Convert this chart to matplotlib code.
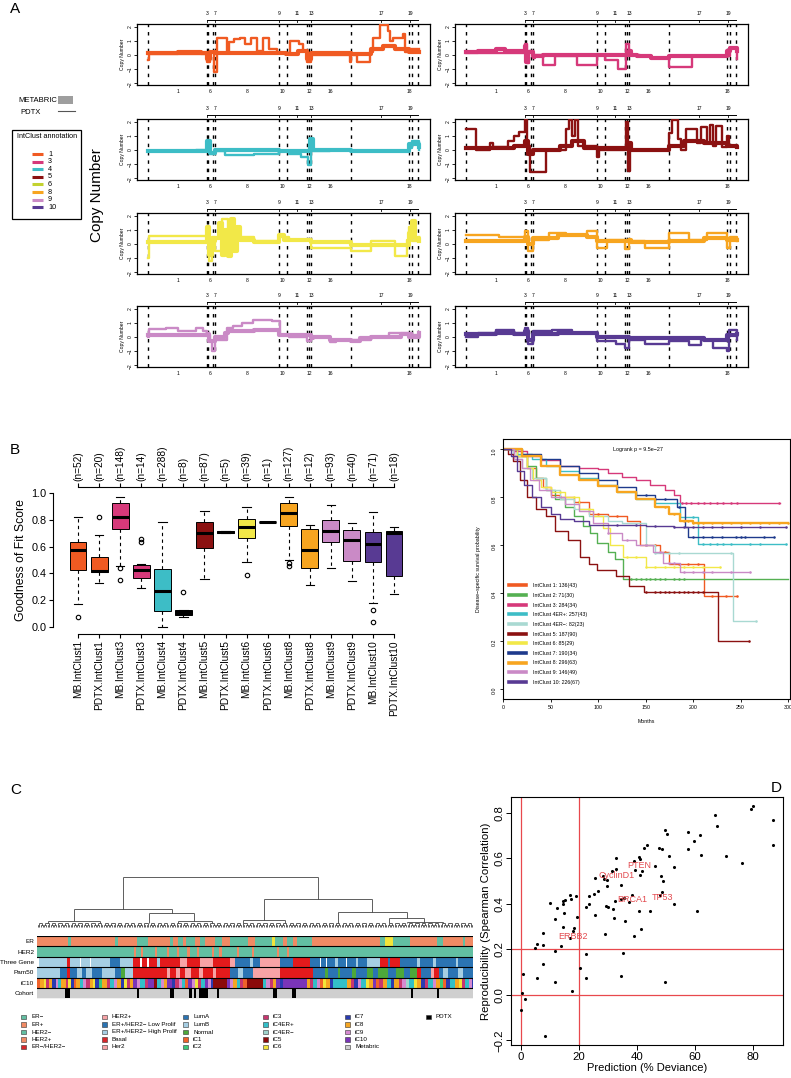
import numpy as np
import matplotlib.pyplot as plt
from matplotlib.lines import Line2D
from matplotlib.collections import LineCollection
from matplotlib.transforms import blended_transform_factory

W, H = 791, 1078
plt.rcParams['font.family'] = ['Liberation Sans', 'DejaVu Sans']

# ---------------- colours ----------------
IC1, IC2, IC3, IC4, IC4N = '#F05A22', '#55B052', '#D6397A', '#3DBDC6', '#A9D9D2'
IC5, IC6, IC7, IC8, IC9, IC10 = '#8B1111', '#F2E848', '#1E3A8C', '#F7A520', '#CA8AC6', '#583A93'

# ---------------- panel A data ----------------
CHR_LINES = [3.75, 23.9, 24.2, 25.9, 26.6, 48.5, 51.2, 58.0, 58.7, 59.4, 73.0, 92.8, 93.9, 95.9]
TOP_CHR = ['3', '7', '9', '11', '13', '17', '19']
TOP_POS = [23.9, 26.6, 48.5, 54.6, 59.4, 83.3, 93.2]
BOT_CHR = ['1', '6', '8', '10', '12', '16', '18']
BOT_POS = [14.0, 24.9, 37.5, 49.8, 58.7, 65.9, 92.8]

CN_COLORS = [IC1, IC3, IC4, IC5, IC6, IC8, IC9, IC10]
CN_MB = [
    [(3.75, 0.1), (10, 0.15), (14, 0.2), (22, 0.15), (23.9, -0.3), (25, 0.2), (26.6, 0.1), (30, 0.15), (48, 0.1),
     (51, 0.05), (55, 0.3), (58, -0.3), (59.4, 0.1), (73, 0.05), (80, 0.4), (84, 0.6), (88, 0.4), (92.8, 0.2), (96.2, 0.2)],
    [(3.75, 0.2), (8, 0.3), (14, 0.4), (17, 0.3), (23.9, 0.6), (24.2, -0.5), (25, 0.2), (26.6, -0.1), (30, 0.0),
     (48.5, 0.0), (59.4, 0.3), (60, 0.0), (62, -0.1), (67, -0.2), (73, -0.1), (90, -0.05), (92.8, 0.3), (94, 0.5), (96.2, 0.3)],
    [(3.75, -0.1), (10, -0.05), (23.9, 0.6), (25, -0.2), (26.6, 0.0), (48.5, -0.1), (59.2, 0.8), (60, 0.0),
     (73, -0.05), (92.8, 0.4), (96.2, 0.2)],
    [(3.75, 0.1), (20, 0.3), (23.9, 0.6), (25, -0.3), (26.6, 0.0), (36, 0.3), (40, 0.6), (44, 0.1), (59.4, 0.5),
     (60, 0.0), (73, 0.3), (78, 0.6), (85, 0.5), (92.8, 0.3), (96.2, 0.2)],
    [(3.75, 0.1), (23.9, 1.2), (24.5, -0.8), (25.5, 0.2), (26.6, 0.4), (28, 1.5), (29, -0.8), (30, 1.0), (31, -0.9),
     (32, 1.8), (33, -0.5), (34, 1.2), (35, 0.3), (40, 0.1), (48.5, 0.6), (50, 0.3), (59.4, 0.1), (73, -0.1),
     (92.8, 0.8), (94, 1.6), (95, 0.4), (96.2, 0.2)],
    [(3.75, 0.2), (23.9, 0.5), (25, 0.0), (26.6, 0.4), (35, 0.6), (45, 0.5), (48.5, 0.2), (59.4, 0.3), (60, 0.1),
     (73, 0.2), (85, 0.4), (92.8, 0.3), (96.2, 0.3)],
    [(3.75, 0.1), (23.9, 0.2), (24.5, -0.3), (26.6, 0.0), (30, 0.3), (31, 0.45), (40, 0.5), (48.5, 0.1),
     (59.4, -0.1), (60, 0.0), (66, -0.2), (73, -0.3), (76, -0.1), (80, 0.0), (90, 0.2), (92.8, 0.0), (96.2, 0.3)],
    [(3.75, 0.2), (14, 0.3), (20, 0.2), (23.9, 0.4), (25, -0.2), (26.6, 0.2), (35, 0.3), (48.5, 0.0), (59.4, -0.1),
     (73, -0.1), (85, -0.2), (92.8, 0.1), (96.2, 0.2)],
]
CN_PDTX = [
    [(3.75, -0.4), (4.2, 0.05), (23.9, -0.5), (25, 0.2), (26.3, -1.2), (27.2, 1.2), (30.6, 0.1), (31.5, 0.9),
     (33, 1.1), (35, 1.2), (37, 0.8), (39, 1.2), (41, 0.3), (43, 1.2), (45, 0.4), (47.7, 0.1), (52.2, 1.0),
     (55.3, 0.8), (56.5, 0.3), (58, -0.5), (59.4, 0.0), (72.7, -0.5), (73.2, 0.0), (75, -0.5), (79.5, 0.2),
     (80.5, 1.2), (82.9, 2.1), (85.8, 1.7), (86.5, 1.0), (87.5, 1.2), (90.9, 1.5), (91.5, 0.2), (93, 0.4), (96.2, 0.4)],
    [(3.75, 0.1), (23.9, 0.8), (24.5, -0.6), (25.2, 0.3), (26.6, -0.2), (27.2, 0.0), (30.1, -0.7), (34.1, -0.05),
     (41.5, -0.7), (48.4, 0.0), (51.2, -0.35), (55.8, -1.0), (58.5, 0.8), (59.4, 0.0), (63, -0.1), (67, -0.25),
     (73.1, -0.85), (80.8, -0.1), (92.8, -0.1), (94, 0.5), (96.2, -0.3)],
    [(3.75, -0.1), (20, 0.0), (23.9, 0.4), (25, -0.3), (26.6, -0.1), (30, -0.35), (40, -0.3), (48.5, -0.1),
     (52, -0.3), (56, -0.5), (58.2, -1.1), (59.4, -0.1), (66, 0.0), (73, -0.1), (82, -0.05), (92.8, 0.1),
     (94, 0.6), (96.2, 0.0)],
    [(3.75, 1.5), (7, 0.0), (12, 0.5), (13, 0.2), (18, 0.6), (20, 1.0), (22, 1.3), (23.9, 2.1), (24.6, 0.3),
     (25.5, -1.6), (31, 0.0), (38, 1.5), (39, 2.1), (40, 1.0), (41, 2.1), (42, 0.3), (48.5, -0.5), (49, 0.0),
     (58.5, 2.0), (59, -1.5), (59.6, 0.0), (73, 1.2), (74, 2.1), (76, 0.8), (77, 0.0), (79, 1.5), (82, 1.5),
     (82.5, 0.5), (84, 1.6), (86, 0.5), (87, 1.8), (88, 0.3), (89, 1.7), (91, 0.2), (92.8, 1.0), (93.5, 0.3), (96.2, 0.3)],
    [(3.75, -1.0), (4, 0.55), (23.9, 0.55), (24.5, -1.2), (25.5, 0.5), (26.6, -0.5), (29, 1.8), (31, 0.5),
     (40, 0.2), (48.5, 0.5), (52, 0.3), (58, 0.3), (59.4, -0.3), (73, -0.5), (80, 0.2), (88, -0.9), (92, 0.3),
     (92.8, 1.2), (94, 0.2), (96.2, 0.5)],
    [(3.75, 0.6), (15, 0.5), (23.9, 0.9), (25, -0.5), (26.6, 0.3), (32, 0.8), (38, 0.6), (45, 0.9), (48.5, -0.3),
     (52, 0.3), (58, -0.4), (59.4, 0.2), (65, -0.3), (73, 0.8), (80, 0.3), (86, 0.8), (92.8, -0.3), (94, 0.5), (96.2, 0.2)],
    [(3.75, 0.0), (4, 0.55), (10, 0.6), (14, 0.45), (20, 0.6), (22.5, 0.45), (23.9, 0.1), (24.8, -0.3),
     (25.5, -1.0), (26.6, -0.2), (30.6, 0.6), (32.9, 0.8), (36, 1.0), (39.7, 1.2), (46, 1.15), (48.8, 0.1),
     (52, 0.0), (58, -0.3), (59.4, 0.0), (66, -0.4), (68, -0.2), (73, -0.2), (80, 0.0), (86, 0.3), (92.8, 0.3),
     (94, 0.1), (96.2, 0.3)],
    [(3.75, 0.0), (8, 0.3), (14, 0.5), (20, 0.3), (23.9, 0.6), (25, -0.5), (26.6, 0.4), (33, 0.5), (40, 0.3),
     (48.5, -0.3), (55, -0.5), (58, -0.8), (59.4, -0.2), (65, -0.5), (73, -0.3), (80, -0.6), (84, -0.2),
     (88, -0.8), (92.8, -1.0), (93.5, 0.5), (96.2, -0.2)],
]
ANNOT_LABELS = ['1', '3', '4', '5', '6', '8', '9', '10']
ANNOT_COLORS = [IC1, IC3, IC4, IC5, '#C3D22F', IC8, IC9, IC10]

# ---------------- panel B data ----------------
BOX_LABELS = ['MB.IntClust1', 'PDTX.IntClust1', 'MB.IntClust3', 'PDTX.IntClust3', 'MB.IntClust4', 'PDTX.IntClust4',
              'MB.IntClust5', 'PDTX.IntClust5', 'MB.IntClust6', 'PDTX.IntClust6', 'MB.IntClust8', 'PDTX.IntClust8',
              'MB.IntClust9', 'PDTX.IntClust9', 'MB.IntClust10', 'PDTX.IntClust10']
BOX_N = [52, 20, 148, 14, 288, 8, 87, 5, 39, 1, 127, 12, 93, 40, 71, 18]
BOX_MED = [0.575, 0.417, 0.82, 0.425, 0.272, 0.106, 0.70, 0.707, 0.748, 0.785, 0.852, 0.575, 0.716, 0.649, 0.62, 0.70]
BOX_Q1 = [0.427, 0.41, 0.733, 0.365, 0.118, 0.09, 0.593, 0.70, 0.662, 0.785, 0.756, 0.44, 0.635, 0.496, 0.486, 0.378]
BOX_Q3 = [0.637, 0.519, 0.926, 0.464, 0.432, 0.126, 0.785, 0.715, 0.805, 0.785, 0.926, 0.728, 0.80, 0.723, 0.709, 0.718]
BOX_LO = [0.173, 0.328, 0.455, 0.291, 0.0, 0.075, 0.358, 0.70, 0.489, 0.785, 0.50, 0.316, 0.44, 0.346, 0.18, 0.247]
BOX_HI = [0.822, 0.686, 0.97, 0.47, 0.785, 0.13, 0.867, 0.715, 0.896, 0.785, 0.97, 0.765, 0.914, 0.778, 0.857, 0.743]
BOX_OUT = [[0.077], [0.822], [0.44, 0.35], [0.66, 0.637], [], [0.259], [], [], [0.39], [], [0.48, 0.455], [], [], [],
           [0.13, 0.04], []]
BOX_COLORS = [IC1, IC1, IC3, IC3, IC4, 'black', IC5, IC5, IC6, IC6, IC8, IC8, IC9, IC9, IC10, IC10]

SURV_LABELS = ['IntClust 1: 136(43)', 'IntClust 2: 71(30)', 'IntClust 3: 284(34)', 'IntClust 4ER+: 257(43)',
               'IntClust 4ER\u2212: 82(23)', 'IntClust 5: 187(90)', 'IntClust 6: 85(29)', 'IntClust 7: 190(34)',
               'IntClust 8: 296(63)', 'IntClust 9: 146(49)', 'IntClust 10: 226(67)']
SURV_COLORS = [IC1, IC2, IC3, IC4, IC4N, IC5, IC6, IC7, IC8, IC9, IC10]
SURV_T = [
    [0, 12, 25, 35, 42, 50, 60, 75, 90, 110, 130, 144, 165, 175, 211, 246],
    [0, 15, 25, 35, 45, 55, 65, 75, 84, 92, 99, 110, 118, 126, 300],
    [0, 10, 25, 40, 60, 80, 100, 110, 125, 140, 155, 170, 180, 186, 292],
    [0, 15, 30, 45, 60, 80, 100, 120, 140, 160, 186, 205, 298],
    [0, 10, 20, 30, 45, 60, 75, 90, 110, 125, 150, 160, 242, 266],
    [0, 5, 10, 18, 25, 35, 45, 55, 68, 81, 90, 99, 119, 133, 148, 226, 259],
    [0, 15, 25, 32, 40, 50, 65, 80, 95, 105, 113, 126, 150, 228],
    [0, 20, 40, 60, 80, 100, 120, 140, 160, 183, 192, 195, 285],
    [0, 20, 40, 60, 80, 100, 120, 140, 160, 175, 186, 200, 300],
    [0, 12, 20, 28, 38, 50, 65, 80, 95, 110, 125, 140, 158, 168, 186, 260],
    [0, 8, 15, 22, 30, 40, 50, 60, 75, 90, 150, 180, 298],
]
SURV_P = [
    [1, 0.97, 0.92, 0.88, 0.84, 0.81, 0.80, 0.78, 0.73, 0.72, 0.70, 0.60, 0.57, 0.52, 0.386, 0.386],
    [1, 0.97, 0.93, 0.88, 0.83, 0.79, 0.76, 0.72, 0.68, 0.65, 0.61, 0.57, 0.54, 0.458, 0.458],
    [1, 0.99, 0.97, 0.955, 0.93, 0.92, 0.915, 0.90, 0.885, 0.87, 0.85, 0.83, 0.81, 0.775, 0.775],
    [1, 0.98, 0.96, 0.93, 0.91, 0.88, 0.85, 0.82, 0.79, 0.775, 0.717, 0.604, 0.604],
    [1, 0.96, 0.92, 0.88, 0.83, 0.79, 0.75, 0.72, 0.70, 0.69, 0.60, 0.565, 0.283, 0.283],
    [1, 0.98, 0.95, 0.87, 0.80, 0.75, 0.72, 0.66, 0.62, 0.55, 0.52, 0.495, 0.47, 0.43, 0.405, 0.20, 0.20],
    [1, 0.97, 0.92, 0.87, 0.84, 0.82, 0.80, 0.75, 0.72, 0.67, 0.60, 0.55, 0.51, 0.51],
    [1, 0.98, 0.96, 0.93, 0.90, 0.87, 0.84, 0.81, 0.79, 0.76, 0.675, 0.635, 0.635],
    [1, 0.97, 0.93, 0.89, 0.87, 0.845, 0.82, 0.79, 0.76, 0.73, 0.70, 0.69, 0.69],
    [1, 0.96, 0.92, 0.87, 0.83, 0.80, 0.77, 0.74, 0.69, 0.65, 0.62, 0.60, 0.57, 0.525, 0.487, 0.487],
    [1, 0.97, 0.91, 0.85, 0.80, 0.76, 0.73, 0.71, 0.70, 0.685, 0.68, 0.675, 0.675],
]
SURV_CENS = [
    [60, 80, 100, 120, 150, 160, 170, 185, 195, 205, 220, 235, 246],
    [135, 140, 145, 150, 155, 160, 165, 170, 180, 185, 190],
    [188, 193, 198, 205, 212, 218, 225, 232, 240, 246, 290],
    [200, 210, 218, 225, 232, 240, 260, 270, 298],
    [150, 160, 175, 185, 240, 266],
    [150, 160, 165, 170, 175, 180, 185, 190, 195, 200, 205, 210, 259],
    [60, 75, 90, 130, 140, 150, 160, 170, 180, 190, 200, 210, 228],
    [150, 160, 170, 185, 200, 210, 220, 230, 245, 250, 255, 275, 285],
    [170, 180, 190, 195, 200, 205, 210, 220, 230, 240, 250, 260, 270, 280, 290, 300],
    [110, 130, 150, 165, 175, 180, 190, 200, 210, 220, 240, 260],
    [120, 140, 160, 180, 190, 200, 210, 220, 230, 250, 270, 298],
]

# ---------------- panel C data ----------------
ROW_NAMES = ['ER', 'HER2', 'Three Gene', 'Pam50', 'iC10', 'Cohort']
ROW_RUNS = [
    "p31 n3 p44 n3 p19 n11 p22 n3 p5 n5 p3 n9 p5 n5 p10 n7 p8 n18 p7 n17 g3 n8 p4 n6 p4 n15 p68 n5 g8 n17 p27 n6 p20 n2 p8",
    "t97 s2 t5 s2 t12 s2 t10 s2 t8 s2 t8 s3 t7 s2 t13 s2 t5 s3 t15 s2 t13 s2 t23 s2 t8 s2 t184",
    "w2 H28 R3 H10 w1 H9 w1 H19 L10 H13 R7 w2 R5 w2 R8 H3 R7 R13 P7 R13 P13 R17 P5 L5 L10 H3 L7 P20 L13 R17 L10 w1 "
    "L5 w1 L8 H3 L8 w1 L9 H2 L9 H13 R8 L2 R10 L17 H3 L13 H3 L20 H2 L15",
    "B23 A7 S3 A7 B5 A4 B6 A10 B13 A6 N4 B8 S34 E3 S6 E4 S5 E6 S8 E4 S10 E3 S14 A8 B5 A10 E27 S33 A12 N3 A10 N2 A12 "
    "N4 A11 N6 A5 N10 A8 N8 A6 N7 S4 A10 E3 S5 A4 B5 A10 B5 A10",
    "a3 i4 g2 c3 i3 h4 j2 d3 i5 c2 g3 h3 a2 i4 d3 j3 c4 i3 g2 h4 b3 i5 c3 d4 j3 i4 h3 g3 c3 i3 "
    "k4 j3 d5 c3 k6 f3 d4 j3 i3 k5 h3 c4 j3 d3 a3 k4 j3 g3 c3 d4 k3 j3 h2 f14 k3 j3 i4 d3 c3 a4 f16 "
    "d3 j4 c3 i3 k4 h3 k24 i3 c3 d4 j3 a3 g3 i4 h3 d14 i4 c3 h4 j3 d5 g3 i4 k3 a3 c4 i4 "
    "d4 h3 i5 c3 j4 e3 d5 g3 i4 h4 c3 d5 j3 i4 b3 a3 h4 d5 i4 g3 c3 d4 j3 h1",
    "m28 x5 m67 x2 m31 x4 m15 x3 m2 x2 m3 x9 m9 x2 m54 x4 m15 x4 m115 x2 m24 x2 m34",
]
CAT_COLORS = {
    'n': '#62BFA2', 'p': '#F08A64', 'g': '#D0D0D0', 't': '#62BFA2', 's': '#F08A64',
    'w': '#FFFFFF', 'H': '#A6CEE3', 'L': '#2B74B3', 'R': '#E31A1C', 'P': '#F7A3A6',
    'A': '#2B74B3', 'B': '#A6CEE3', 'N': '#4DA83A', 'S': '#E31A1C', 'E': '#F7A3A6',
    'a': '#F0622A', 'b': '#3CC878', 'c': '#C8366F', 'd': '#33BFC8', 'e': '#9FD4CC', 'f': '#8B0A0A',
    'g': '#F2E53A', 'h': '#2A3BB0', 'i': '#F5A623', 'j': '#D58AD0', 'k': '#7A35B8',
    'm': '#CFCFCF', 'x': '#000000',
}
LEG_COLS = [
    [('ER\u2212', '#62BFA2'), ('ER+', '#F08A64'), ('HER2\u2212', '#62BFA2'), ('HER2+', '#F08A64'),
     ('ER\u2212/HER2\u2212', '#D7262A')],
    [('HER2+', '#F7A3A6'), ('ER+/HER2\u2212 Low Prolif', '#2B74B3'), ('ER+/HER2\u2212 High Prolif', '#A6CEE3'),
     ('Basal', '#D7262A'), ('Her2', '#F7A3A6')],
    [('LumA', '#2B74B3'), ('LumB', '#A6CEE3'), ('Normal', '#4DA83A'), ('iC1', '#F0622A'), ('iC2', '#3CC878')],
    [('iC3', '#C8366F'), ('iC4ER+', '#33BFC8'), ('iC4ER\u2212', '#9FD4CC'), ('iC5', '#8B0A0A'), ('iC6', '#F2E53A')],
    [('iC7', '#2A3BB0'), ('iC8', '#F5A623'), ('iC9', '#D58AD0'), ('iC10', '#7A35B8'), ('Metabric', '#CFCFCF')],
    [('PDTX', '#000000')],
]
# dendrogram merges: left x, right x, height, left child height, right child height
DENDRO = [
    (86, 281, 50, 18, 28), (37, 135, 18, 6, 14), (11, 63, 6, 4, 4), (112, 157, 14, 4, 6), (141, 175, 6, 4, 4),
    (227, 335, 28, 7, 15), (206, 248, 7, 4, 4), (301, 370, 15, 4, 9), (352, 387, 9, 4, 5), (370, 406, 5, 4, 4),
]
N_LEAF = 264

# ---------------- panel D data ----------------
DEV = [0, 0.3, 0.6, 1.3, 8.4, 4.9, 5.5, 7.5, 7.5, 7.5, 5.5, 10.1, 11.8, 12.4, 11.8, 11.6, 13.9, 14.5, 14.7, 14.5,
       14.5, 15.3, 16.8, 17.2, 16.8, 18.0, 18.1, 17.6, 19.1, 19.3, 20.2, 22.4, 22.5, 22.5, 23.3, 23.3, 25.3, 25.6,
       25.6, 26.4, 28.3, 28.7, 29.7, 29.7, 29.3, 29.9, 29.1, 31.4, 31.7, 32.2, 32.3, 32.9, 32.9, 34.3, 34.3, 35.4,
       34.6, 35.1, 35.7, 37.1, 38.3, 39.1, 39.1, 39.4, 40.6, 40.6, 41.1, 40.9, 41.7, 41.4, 42.3, 43.4, 44.4, 46.3,
       47.5, 48.0, 48.6, 48.7, 48.4, 49.0, 49.8, 50.3, 51.0, 49.8, 52.9, 52.9, 57.5, 57.5, 59.5, 60.5, 61.8, 62.1,
       66.7, 67.6, 70.7, 76.1, 79.1, 79.9, 87.0, 86.7]
REPRO = [-0.066, 0.007, 0.092, -0.018, -0.179, 0.208, 0.223, 0.22, 0.274, 0.135, 0.073, 0.404, 0.333, 0.383, 0.194,
         0.056, 0.216, 0.297, 0.36, 0.401, 0.411, 0.418, 0.44, 0.423, 0.25, 0.282, 0.294, 0.016, 0.433, 0.341, 0.12,
         0.18, 0.073, 0.386, 0.433, 0.4, 0.443, 0.352, 0.514, 0.458, 0.524, 0.509, 0.506, 0.477, 0.393, 0.388, 0.27,
         0.543, 0.379, 0.338, 0.415, 0.553, 0.602, 0.484, 0.421, 0.426, 0.085, 0.183, 0.323, 0.408, 0.44, 0.257,
         0.587, 0.548, 0.606, 0.367, 0.598, 0.528, 0.543, 0.291, 0.646, 0.658, 0.371, 0.568, 0.646, 0.44, 0.451,
         0.641, 0.521, 0.502, 0.727, 0.709, 0.609, 0.056, 0.561, 0.399, 0.715, 0.641, 0.675, 0.367, 0.702, 0.617,
         0.79, 0.744, 0.609, 0.58, 0.818, 0.832, 0.769, 0.661]
GENES = ['PTEN', 'CyclinD1', 'BRCA1', 'TP53', 'ERBB2']
GENE_X = [40.7, 32.9, 38.2, 48.9, 18.0]
GENE_Y = [0.57, 0.525, 0.42, 0.43, 0.255]

# =====================================================================
fig = plt.figure(figsize=(W / 100, H / 100), dpi=100)


def px_axes(x0, y0, x1, y1):
    return fig.add_axes([x0 / W, 1 - y1 / H, (x1 - x0) / W, (y1 - y0) / H])


def ftext(x, y, s, **kw):
    fig.text(x / W, 1 - y / H, s, **kw)


ftext(10, 9, 'A', fontsize=11, va='center')
ftext(10, 450, 'B', fontsize=11, va='center')
ftext(10, 790, 'C', fontsize=11, va='center')
ftext(771, 788, 'D', fontsize=11, va='center')

# ---------------- panel A ----------------
row_tops = [24, 119, 213, 306]
col_x = [(137, 430), (455, 748)]
for k in range(8):
    r, c = k // 2, k % 2
    ax = px_axes(col_x[c][0], row_tops[r], col_x[c][1], row_tops[r] + 61)
    ax.set_xlim(0, 100)
    ax.set_ylim(-2.15, 2.2)
    for xv in CHR_LINES:
        ax.axvline(xv, color='black', ls=(0, (2.5, 3.5)), lw=1.0, zorder=1)
    mb = np.array(CN_MB[k])
    pd_ = np.array(CN_PDTX[k])
    ax.step(mb[:, 0], mb[:, 1], where='post', color=CN_COLORS[k], lw=3.0, zorder=2)
    ax.step(pd_[:, 0], pd_[:, 1], where='post', color=CN_COLORS[k], lw=1.7, zorder=3)
    ax.set_xticks(BOT_POS, BOT_CHR)
    ax.tick_params(axis='x', length=0, pad=3, labelsize=3.6)
    ax.set_yticks([-2, -1, 0, 1, 2])
    ax.tick_params(axis='y', length=2, width=0.6, pad=1, labelsize=3.6, labelrotation=90)
    ax.set_ylabel('Copy Number', fontsize=3.6, labelpad=2)
    for sp in ax.spines.values():
        sp.set_linewidth(0.9)
    tr = blended_transform_factory(ax.transData, ax.transAxes)
    ax.plot([CHR_LINES[1], CHR_LINES[-1]], [1.066, 1.066], color='black', lw=0.7, transform=tr, clip_on=False)
    for xp, lab in zip(TOP_POS, TOP_CHR):
        ax.plot([xp, xp], [1.066, 1.03], color='black', lw=0.6, transform=tr, clip_on=False)
        ax.text(xp, 1.17, lab, fontsize=3.6, ha='center', va='center', transform=tr)

ftext(97, 195, 'Copy Number', fontsize=11, rotation=90, ha='center', va='center')
ftext(18, 100, 'METABRIC', fontsize=5.5, va='center')
ftext(20, 112, 'PDTX', fontsize=5.5, va='center')
leg_ax = px_axes(0, 0, W, H)
leg_ax.set_xlim(0, W)
leg_ax.set_ylim(H, 0)
leg_ax.axis('off')
leg_ax.add_patch(plt.Rectangle((58, 96), 15, 8, color='#9E9E9E', lw=0))
leg_ax.plot([58, 75], [111, 111], color='#555555', lw=0.8)
leg_ax.add_patch(plt.Rectangle((12, 130), 69, 89, fill=False, lw=0.9, ec='black'))
leg_ax.text(47, 136, 'IntClust annotation', fontsize=5.2, ha='center', va='center')
for i, (lab, col) in enumerate(zip(ANNOT_LABELS, ANNOT_COLORS)):
    yy = 154 + i * 7.6
    leg_ax.plot([32, 43], [yy, yy], color=col, lw=2.2, solid_capstyle='butt')
    leg_ax.text(48, yy, lab, fontsize=5.2, va='center')

# ---------------- panel B: boxplot ----------------
ax = px_axes(53, 487, 405, 634)
stats = []
for i in range(len(BOX_LABELS)):
    stats.append(dict(med=BOX_MED[i], q1=BOX_Q1[i], q3=BOX_Q3[i], whislo=BOX_LO[i], whishi=BOX_HI[i],
                      fliers=BOX_OUT[i]))
pos = np.arange(1, len(BOX_LABELS) + 1)
bp = ax.bxp(stats, positions=pos, widths=0.8, patch_artist=True, showfliers=True, capwidths=0.4,
            boxprops=dict(edgecolor='black', lw=0.7),
            whiskerprops=dict(color='black', lw=0.8, ls=(0, (3, 3))),
            capprops=dict(color='black', lw=0.8),
            medianprops=dict(color='black', lw=2.2, solid_capstyle='butt'),
            flierprops=dict(marker='o', mfc='none', mec='black', ms=3.2, mew=0.8))
for patch, col in zip(bp['boxes'], BOX_COLORS):
    patch.set_facecolor(col)
ax.set_xlim(-0.19, 16.52)
ax.set_ylim(-0.052, 1.045)
ax.spines['right'].set_visible(False)
ax.spines['top'].set_visible(False)
ax.spines['left'].set_bounds(0, 1)
ax.spines['bottom'].set_bounds(1, 16)
ax.set_yticks([0, 0.2, 0.4, 0.6, 0.8, 1.0], ['0.0', '0.2', '0.4', '0.6', '0.8', '1.0'])
ax.set_xticks(pos, BOX_LABELS, rotation=90)
ax.tick_params(axis='x', length=3, width=0.8, pad=1.5, labelsize=7.3)
ax.tick_params(axis='y', length=3, width=0.8, pad=1.5, labelsize=7.8)
ax.set_ylabel('Goodness of Fit Score', fontsize=8.8, labelpad=3)
sec = ax.secondary_xaxis('top')
sec.set_xticks(pos, ['(n=%d)' % n for n in BOX_N], rotation=90)
sec.tick_params(length=3, width=0.8, pad=1.5, labelsize=7.3)
sec.spines['top'].set_bounds(1, 16)

# ---------------- panel B: survival ----------------
ax = px_axes(503, 439, 790, 699)
handles = []
for i in range(len(SURV_LABELS)):
    t = np.array(SURV_T[i], dtype=float)
    p = np.array(SURV_P[i], dtype=float)
    lw = 1.7 if SURV_COLORS[i] == IC8 else 1.0
    ax.step(t, p, where='post', color=SURV_COLORS[i], lw=lw)
    ct = np.array(SURV_CENS[i], dtype=float)
    idx = np.searchsorted(t, ct, side='right') - 1
    ax.plot(ct, p[idx], 'o', color=SURV_COLORS[i], ms=1.8, mew=0)
    handles.append(Line2D([], [], color=SURV_COLORS[i], lw=2.6))
ax.set_xlim(0, 302)
ax.set_ylim(-0.042, 1.042)
ax.set_xticks([0, 50, 100, 150, 200, 250, 300])
ax.set_yticks([0, 0.2, 0.4, 0.6, 0.8, 1.0], ['0.0', '0.2', '0.4', '0.6', '0.8', '1.0'])
ax.tick_params(axis='both', length=2.5, width=0.6, labelsize=3.8, pad=2)
ax.tick_params(axis='y', labelrotation=90)
for sp in ax.spines.values():
    sp.set_linewidth(0.8)
ax.set_xlabel('Months', fontsize=3.8, labelpad=6)
ax.set_ylabel('Disease\u2212specific survival probability', fontsize=3.8, labelpad=8)
ax.text(142, 1.0, 'Logrank p = 9.5e\u221227', fontsize=3.9, ha='center', va='center')
ax.legend(handles, SURV_LABELS, loc='upper left', bbox_to_anchor=(0.012, 0.455), frameon=False, fontsize=3.8,
          handlelength=3.2, handletextpad=1.3, labelspacing=0.88, borderpad=0)

# ---------------- panel C ----------------
dax = px_axes(37, 872, 473, 928)
dax.set_xlim(0, 436)
dax.set_ylim(-1, 55)
dax.axis('off')
segs = []
for xl, xr, h, hl, hr in DENDRO:
    segs += [[(xl, hl), (xl, h)], [(xl, h), (xr, h)], [(xr, h), (xr, hr)]]
leaf_x = np.linspace(0.8, 435.2, N_LEAF)
pair_x = []
for i in range(0, N_LEAF - 1, 2):
    a, b = leaf_x[i], leaf_x[i + 1]
    segs += [[(a, 0), (a, 2)], [(a, 2), (b, 2)], [(b, 2), (b, 0)]]
    pair_x.append((a + b) / 2)
for i in range(0, len(pair_x) - 1, 2):
    a, b = pair_x[i], pair_x[i + 1]
    segs += [[(a, 2), (a, 3.8)], [(a, 3.8), (b, 3.8)], [(b, 3.8), (b, 2)]]
dax.add_collection(LineCollection(segs, colors='#333333', linewidths=0.55))

hax = px_axes(37, 936, 473, 998.5)
hax.set_xlim(0, 436)
hax.set_ylim(len(ROW_NAMES), 0)
for r, runs in enumerate(ROW_RUNS):
    toks = runs.split()
    cats = [tk[0] for tk in toks]
    widths = np.array([float(tk[1:]) for tk in toks])
    widths = widths * 436.0 / widths.sum()
    lefts = np.concatenate([[0], np.cumsum(widths)[:-1]])
    hax.barh(r + 0.5, widths, left=lefts, height=1.0, color=[CAT_COLORS[c] for c in cats], lw=0)
    hax.axhline(r, color='black', lw=0.8)
hax.axhline(len(ROW_NAMES), color='black', lw=0.8)
hax.set_xticks([])
hax.set_yticks(np.arange(len(ROW_NAMES)) + 0.5, ROW_NAMES)
hax.tick_params(axis='y', length=0, pad=2, labelsize=4.6)
for sp in hax.spines.values():
    sp.set_visible(False)

col_x0 = [21, 102, 183, 263, 345, 426]
for cx, entries in zip(col_x0, LEG_COLS):
    for j, (lab, col) in enumerate(entries):
        yy = 1017 + j * 7.5
        leg_ax.add_patch(plt.Rectangle((cx, yy - 2.3), 5, 4.6, fc=col, ec='#333333', lw=0.4))
        leg_ax.text(cx + 10, yy, lab, fontsize=4.5, va='center')

# ---------------- panel D ----------------
ax = px_axes(511, 797, 783, 1045)
ax.axvline(0, color='#E8484D', lw=0.9)
ax.axvline(20, color='#E8484D', lw=0.9)
ax.axhline(0, color='#E8484D', lw=0.9)
ax.axhline(0.2, color='#E8484D', lw=0.9)
ax.scatter(DEV, REPRO, s=5, color='black', lw=0, zorder=3)
for g, gx, gy in zip(GENES, GENE_X, GENE_Y):
    ax.text(gx, gy, g, color='#E34A4F', fontsize=6.5, ha='center', va='center', zorder=4)
ax.set_xlim(-3.45, 90.3)
ax.set_ylim(-0.22, 0.87)
ax.set_xticks([0, 20, 40, 60, 80])
ax.set_yticks([-0.2, 0.0, 0.2, 0.4, 0.6, 0.8], ['\u22120.2', '0.0', '0.2', '0.4', '0.6', '0.8'])
ax.tick_params(axis='both', length=3.5, width=0.7, labelsize=8.2, pad=1.5)
ax.tick_params(axis='y', labelrotation=90)
for lab in ax.get_yticklabels():
    lab.set_va('center')
for sp in ax.spines.values():
    sp.set_linewidth(0.8)
ax.set_xlabel('Prediction (% Deviance)', fontsize=8, labelpad=0.5)
ax.set_ylabel('Reproducibility (Spearman Correlation)', fontsize=8.2, labelpad=2)

fig.savefig('out.png', dpi=100)
